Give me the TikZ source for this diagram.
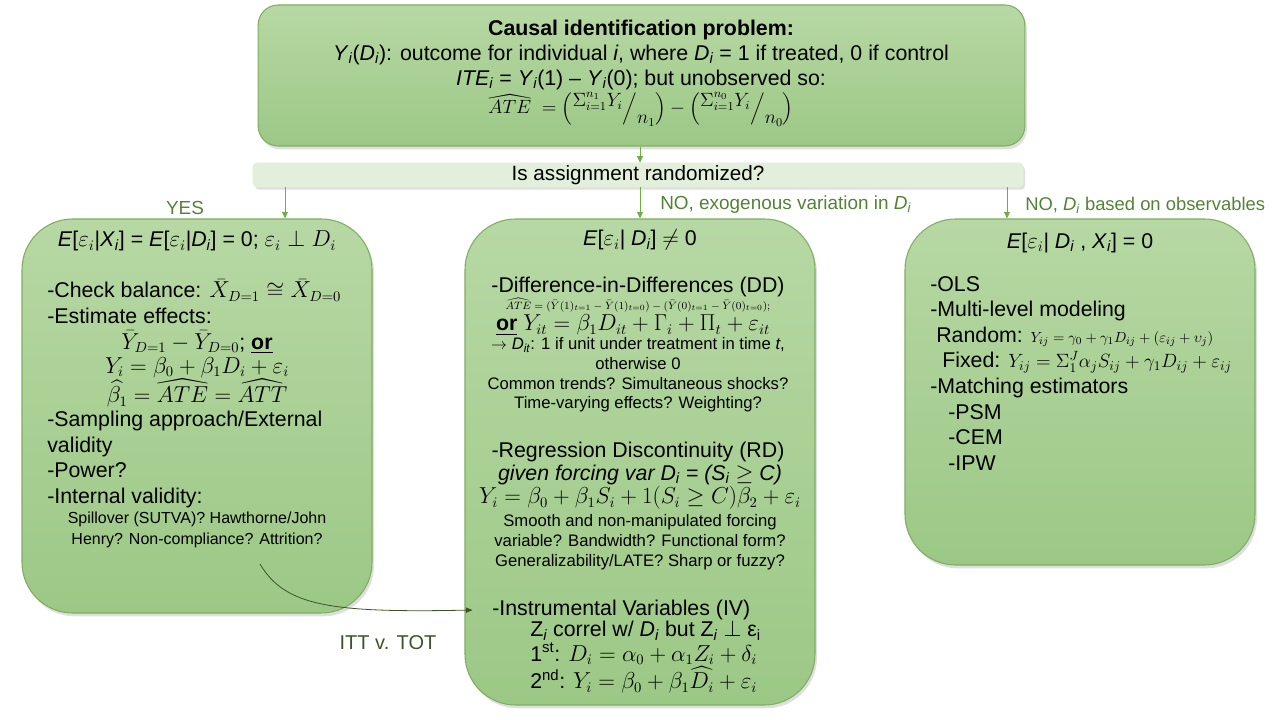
\documentclass[tikz,border=0pt]{standalone}
\usepackage{amsmath, amssymb}
\usepackage{fontspec}
\setmainfont{Liberation Sans}
\usetikzlibrary{positioning, arrows.meta, shadows}

\definecolor{LeafGreen}{HTML}{70AD47}
\definecolor{LeafDark}{HTML}{548235}
\definecolor{MossDark}{HTML}{3B5528}
\definecolor{BoxTop}{HTML}{B7D8A4}
\definecolor{BoxBot}{HTML}{9CC886}
\definecolor{BoxEdge}{HTML}{7FAE60}
\definecolor{BarFill}{HTML}{E3EFDB}

\newcommand{\sbi}[1]{\textsubscript{\itshape #1}}
\newcommand{\setfs}[2]{\fontsize{#1}{#2}\selectfont}

\begin{document}
\begin{tikzpicture}[x=0.75pt, y=-0.75pt,
  gbox/.style={draw=BoxEdge, line width=0.8pt, top color=BoxTop, bottom color=BoxBot,
               inner sep=0pt, drop shadow={shadow xshift=1.5pt, shadow yshift=-2.5pt, opacity=0.25}},
  barbox/.style={draw=LeafGreen!20, fill=BarFill, rounded corners=3pt, inner sep=0pt,
               minimum width=577.5pt, minimum height=18pt, font=\setfs{15.5}{18},
               drop shadow={shadow xshift=1.5pt, shadow yshift=-2pt, opacity=0.25}},
  txt/.style={inner sep=0pt, align=center, font=\setfs{16}{19.5}},
  ltxt/.style={inner sep=0pt, align=left, font=\setfs{16}{19.5}},
  smalltxt/.style={inner sep=0pt, align=center, font=\setfs{12.5}{14.8}},
  lbl/.style={inner sep=0pt, text=LeafDark, font=\setfs{14.2}{17}},
  arr/.style={-{Triangle[length=5pt, width=4.5pt]}, LeafGreen, line width=0.75pt},
  itt/.style={-{Triangle[length=5pt, width=4pt]}, MossDark, line width=0.6pt},
]
  \useasboundingbox (0,0) rectangle (1280,720);

  % boxes
  \node[gbox, rounded corners=15pt, minimum width=575pt, minimum height=105.75pt] (probbox) at (641.5,75.5) {};
  \node[barbox] (bar) at (638,175) {Is assignment randomized?};
  \node[gbox, rounded corners=38pt, minimum width=262.5pt, minimum height=295.5pt] (lbox) at (197,416) {};
  \node[gbox, rounded corners=38pt, minimum width=262.5pt, minimum height=364.5pt] (mbox) at (640,462) {};
  \node[gbox, rounded corners=38pt, minimum width=262.5pt, minimum height=259.5pt] (rbox) at (1080,392) {};

  % problem statement
  \node[txt, font=\setfs{16}{18.4}] (probtext) at (641,55)
    {\textbf{Causal identification problem:}\\
     \textit{Y}\sbi{i}(\textit{D}\sbi{i}): outcome for individual \textit{i}, where \textit{D}\sbi{i} = 1 if treated, 0 if control\\
     \textit{ITE}\sbi{i} = \textit{Y}\sbi{i}(1) -- \textit{Y}\sbi{i}(0); but unobserved so:};
  \node[txt, font=\setfs{13.5}{16}] (atef) at (641,109)
    {$\widehat{ATE}\;= \left(\raisebox{0.8ex}{$\Sigma_{i=1}^{n_1} Y_i$}\Big/\raisebox{-1ex}{$n_1$}\right)
      - \left(\raisebox{0.8ex}{$\Sigma_{i=1}^{n_0} Y_i$}\Big/\raisebox{-1ex}{$n_0$}\right)$};

  % arrows from the question
  \coordinate (yesx) at (285,0);
  \coordinate (exox) at (640,0);
  \coordinate (obsx) at (1007,0);
  \draw[arr] (probbox.south -| exox) -- (bar.north -| exox);
  \draw[arr] (bar.south -| yesx) -- (lbox.north -| yesx);
  \draw[arr] (bar.south -| exox) -- (mbox.north -| exox);
  \draw[arr] (bar.south -| obsx) -- (rbox.north -| obsx);
  \node[lbl] (yes) at (185,208) {YES};
  \node[lbl, anchor=west] (noexo) at (660,205) {NO, exogenous variation in \textit{D}\sbi{i}};
  \node[lbl, anchor=west, font=\setfs{13.8}{17}] (noobs) at (1025,205) {NO, \textit{D}\sbi{i} based on observables};

  % randomized
  \node[txt] (lhead) at (197,241)
    {\textit{E}[$\varepsilon_i$|\textit{X}\sbi{i}] = \textit{E}[$\varepsilon_i$|\textit{D}\sbi{i}] = 0; $\varepsilon_i \perp D_i$};
  \node[ltxt, anchor=north west] (lcheck) at (47,279)
    {-Check balance: $\bar{X}_{D=1} \cong \bar{X}_{D=0}$\\-Estimate effects:};
  \node[txt, font=\setfs{16}{18}] (lest) at (197,369)
    {$\bar{Y}_{D=1} - \bar{Y}_{D=0}$; \underline{\textbf{or}}\\
     $Y_i = \beta_0 + \beta_1 D_i + \varepsilon_i$\\
     $\widehat{\beta_1} = \widehat{ATE} = \widehat{ATT}$};
  \node[ltxt, anchor=north west, font=\setfs{16}{19.2}] (lsamp) at (47,411)
    {-Sampling approach/External\\validity\\-Power?\\-Internal validity:};
  \node[smalltxt, font=\setfs{12}{15.75}] (lspill) at (197,530)
    {Spillover (SUTVA)? Hawthorne/John\\Henry? Non-compliance? Attrition?};

  % exogenous variation
  \node[txt] (mhead) at (640,240) {\textit{E}[$\varepsilon_i$| \textit{D}\sbi{i}] $\neq$ 0};
  \node[txt] (mddt) at (638,287) {-Difference-in-Differences (DD)};
  \node[txt, font=\setfs{8.5}{10}] (mdda) at (638,305)
    {$\widehat{ATE} = (\bar{Y}(1)_{t=1} - \bar{Y}(1)_{t=0}) - (\bar{Y}(0)_{t=1} - \bar{Y}(0)_{t=0});$};
  \node[txt] (mddor) at (633,325)
    {\underline{\textbf{or}} $Y_{it} = \beta_1 D_{it} + \Gamma_i + \Pi_t + \varepsilon_{it}$};
  \node[smalltxt] (mddn) at (638,375)
    {$\rightarrow$ \textit{D}\sbi{it}: 1 if unit under treatment in time \textit{t},\\otherwise 0\\
     Common trends? Simultaneous shocks?\\Time-varying effects? Weighting?};
  \node[txt] (mrdt) at (638,452) {-Regression Discontinuity (RD)};
  \node[txt] (mrdg) at (640,475) {\textit{given forcing var D\sbi{i} = (S\sbi{i} $\geq$ C)}};
  \node[txt] (mrdf) at (640,498) {$Y_i = \beta_0 + \beta_1 S_i + 1(S_i \geq C)\beta_2 + \varepsilon_i$};
  \node[smalltxt, font=\setfs{12.5}{15}] (mrdn) at (640,542)
    {Smooth and non-manipulated forcing\\variable? Bandwidth? Functional form?\\Generalizability/LATE? Sharp or fuzzy?};
  \node[txt, anchor=west] (mivt) at (492,610) {-Instrumental Variables (IV)};
  \node[ltxt, anchor=west, font=\setfs{16}{18.4}] (mivb) at (530,657)
    {Z\sbi{i} correl w/ \textit{D}\sbi{i} but Z\sbi{i} $\perp$ ε\textsubscript{i}\\
     1\textsuperscript{st}: $D_i = \alpha_0 + \alpha_1 Z_i + \delta_i$\\
     2\textsuperscript{nd}: $Y_i = \beta_0 + \beta_1 \widehat{D_i} + \varepsilon_i$};

  % observables
  \node[txt] (rhead) at (1080,243)
    {\textit{E}[$\varepsilon_i$| \textit{D}\sbi{i} , \textit{X}\sbi{i}] = 0};
  \node[ltxt, anchor=north west, font=\setfs{16}{19.2}] (rbody) at (930,276)
    {-OLS\\-Multi-level modeling\\
     \hspace*{4.5pt}Random: {\setfs{11.2}{13}$Y_{ij} = \gamma_0 + \gamma_1 D_{ij} + (\varepsilon_{ij} + \upsilon_j)$}\\
     \hspace*{9pt}Fixed: {\setfs{13.6}{15}$Y_{ij} = \Sigma_1^J \alpha_j S_{ij} + \gamma_1 D_{ij} + \varepsilon_{ij}$}\\
     -Matching estimators\\
     \hspace*{13.5pt}-PSM\\\hspace*{13.5pt}-CEM\\\hspace*{13.5pt}-IPW};

  % intention to treat
  \coordinate (ittfrom) at (260,564);
  \draw[itt] (ittfrom) .. controls (285,606) and (330,613) .. ([xshift=6pt]mbox.west |- mivt.west);
  \node[inner sep=0pt, text=MossDark, font=\setfs{15}{17}] (ittlbl) at (388,643) {ITT v. TOT};
\end{tikzpicture}
\end{document}
